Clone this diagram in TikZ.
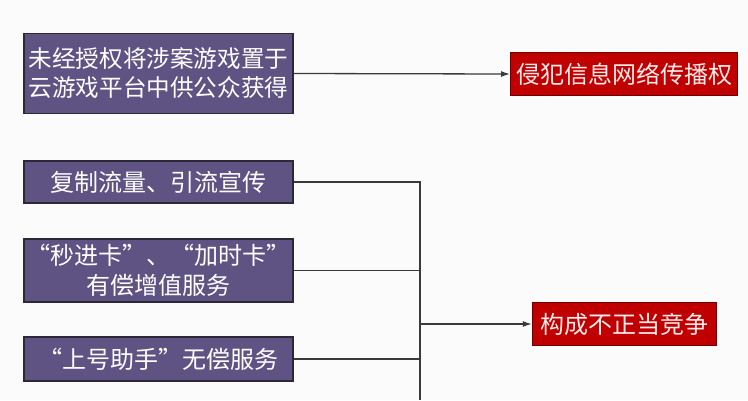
\documentclass[tikz,border=0pt]{standalone}
\usepackage{fontspec}
\newfontfamily\cjk{Noto Sans CJK SC}
\usetikzlibrary{arrows.meta}
\definecolor{actfill}{HTML}{5E5382}
\definecolor{actline}{HTML}{2B2838}
\definecolor{lawfill}{HTML}{C00000}
\definecolor{lawline}{HTML}{6E0000}
\definecolor{paper}{HTML}{FBFBFB}
\definecolor{wire}{HTML}{3A3A3A}
\begin{document}
\begin{tikzpicture}[x=1pt,y=-1pt,
    actbox/.style={draw=actline, line width=1.2pt, fill=actfill, text=white,
        inner sep=0pt, minimum width=269pt, align=center,
        font=\cjk\fontsize{24}{30}\selectfont},
    lawbox/.style={draw=lawline, line width=1pt, fill=lawfill, text=white!92!red,
        inner sep=0pt, minimum height=43pt,
        font=\cjk\fontsize{24}{30}\selectfont},
    wireline/.style={draw=wire, line width=1.3pt},
    wirearrow/.style={wireline, -{Latex[length=9pt,width=6pt]}}]
            \fill[paper] (0,0) rectangle (748,400);
            \useasboundingbox (0,0) rectangle (748,400);

            % left column
            \node[actbox, minimum height=80pt, font=\cjk\fontsize{23.6}{29}\selectfont] (unauth) at (158.5, 73.5) {未经授权将涉案游戏置于\\云游戏平台中供公众获得};
            \node[actbox, minimum height=42pt] (traffic) at (158.5, 182) {复制流量、引流宣传};
            \node[actbox, minimum height=63pt] (paid) at (158.5, 270.5) {“秒进卡”、“加时卡”\\有偿增值服务};
            \node[actbox, minimum height=44pt] (free) at (158.5, 359) {“上号助手”无偿服务};

            % right column
            \node[lawbox, minimum width=227pt] (netright) at (624, 74) {侵犯信息网络传播权};
            \node[lawbox, minimum width=184pt] (unfair) at (624.3, 324) {构成不正当竞争};

            \coordinate (brbot) at (420, 400);

            \draw[wirearrow] (unauth.east) -- (netright.west);
            \draw[wireline] (traffic.east) -| (brbot);
            \draw[wireline] (paid.east) -- (paid.east -| brbot);
            \draw[wireline] (free.east) -- (free.east -| brbot);
            \draw[wirearrow] (unfair.west -| brbot) -- (unfair.west);
        \end{tikzpicture}
\end{document}
